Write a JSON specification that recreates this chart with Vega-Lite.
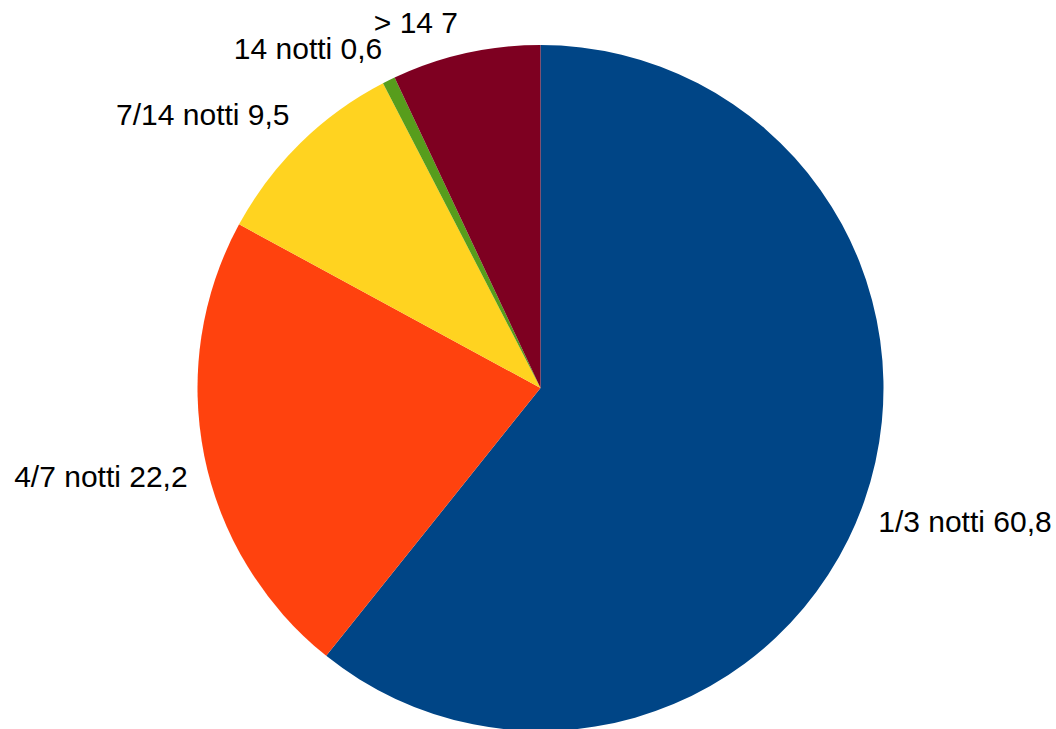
{
  "$schema": "https://vega.github.io/schema/vega-lite/v6.json",
  "autosize": {"type": "none"},
  "width": 1031,
  "height": 682,
  "padding": {"left": 25, "top": 47, "right": 0, "bottom": 0},
  "background": "white",
  "config": {"view": {"stroke": null}},
  "data": {
    "values": [
      {"cat": "1/3 notti", "value": 60.8, "rank": 1, "label": "1/3 notti 60,8"},
      {"cat": "4/7 notti", "value": 22.2, "rank": 2, "label": "4/7 notti 22,2"},
      {"cat": "7/14 notti", "value": 9.5, "rank": 3, "label": "7/14 notti 9,5"},
      {"cat": "14 notti", "value": 0.6, "rank": 4, "label": "14 notti 0,6"},
      {"cat": "> 14", "value": 7, "rank": 5, "label": "> 14 7"}
    ]
  },
  "encoding": {
    "theta": {"field": "value", "type": "quantitative", "stack": true},
    "order": {"field": "rank", "type": "quantitative"}
  },
  "layer": [
    {
      "mark": {"type": "arc", "outerRadius": 343},
      "encoding": {
        "color": {
          "field": "cat",
          "type": "nominal",
          "legend": null,
          "scale": {
            "domain": ["1/3 notti", "4/7 notti", "7/14 notti", "14 notti", "> 14"],
            "range": ["#004586", "#ff420e", "#ffd320", "#579d1c", "#7e0021"]
          }
        }
      }
    },
    {
      "mark": {"type": "text", "radius": 360, "align": "left", "baseline": "alphabetic", "dx": -2, "dy": 25, "font": "Liberation Sans", "fontSize": 30, "fill": "#000000"},
      "encoding": {
        "text": {"condition": {"test": "datum.cat === '1/3 notti'", "field": "label"}, "value": ""}
      }
    },
    {
      "mark": {"type": "text", "radius": 360, "align": "right", "baseline": "alphabetic", "dx": 0, "dy": 28, "font": "Liberation Sans", "fontSize": 30, "fill": "#000000"},
      "encoding": {
        "text": {"condition": {"test": "datum.cat === '4/7 notti'", "field": "label"}, "value": ""}
      }
    },
    {
      "mark": {"type": "text", "radius": 360, "align": "right", "baseline": "alphabetic", "dx": 1, "dy": -6, "font": "Liberation Sans", "fontSize": 30, "fill": "#000000"},
      "encoding": {
        "text": {"condition": {"test": "datum.cat === '7/14 notti' || datum.cat === '14 notti'", "field": "label"}, "value": ""}
      }
    },
    {
      "mark": {"type": "text", "radius": 360, "align": "right", "baseline": "alphabetic", "dx": -4, "dy": -4, "font": "Liberation Sans", "fontSize": 30, "fill": "#000000"},
      "encoding": {
        "text": {"condition": {"test": "datum.cat === '> 14'", "field": "label"}, "value": ""}
      }
    }
  ]
}
